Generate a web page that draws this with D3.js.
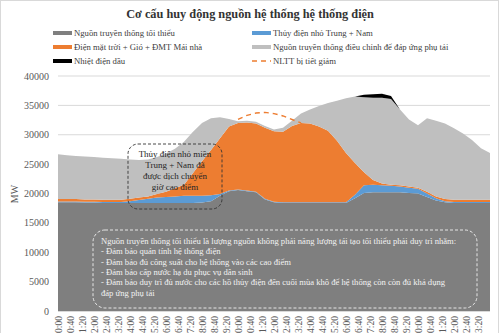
<!DOCTYPE html>
<html>
<head>
<meta charset="utf-8">
<script src="https://cdn.jsdelivr.net/npm/d3@7"></script>
<style>
  body { margin: 0; background: #fff; }
  text { font-family: "Liberation Serif", "Times New Roman", serif; }
</style>
</head>
<body>
<div id="chart"></div>
<script>
// half-hour samples over the day (hours)
const hours = [0,0.5,1,1.5,2,2.5,3,3.5,4,4.5,5,5.5,6,6.5,7,7.5,8,8.5,9,9.5,10,10.5,11,11.5,12,
  12.5,13,13.5,14,14.5,15,15.5,16,16.5,17,17.5,18,18.5,19,19.5,20,20.5,21,21.5,22,22.5,23,23.5,24];

// MW, stacked bottom -> top
const minTrad = [18500,18500,18500,18450,18450,18400,18400,18400,18400,18400,18400,18400,18400,18400,18400,18400,18450,
  18700,19600,20400,20600,20400,20200,19000,18500,18400,18400,18400,18400,18400,18400,18400,18400,
  19200,20100,20200,20200,20200,20200,20100,20000,19400,18800,18500,18400,18400,18400,18400,18400];
const smallHydro = [150,150,150,150,150,150,150,150,300,500,700,900,1000,1100,1200,1200,1150,1000,300,100,
  100,100,100,100,100,100,100,100,100,100,100,100,100,600,1300,1300,1200,1100,1000,900,800,600,400,200,
  150,150,150,150,150];
const solarWind = [400,400,400,400,400,400,400,400,400,400,400,600,900,1400,1900,3900,5900,7700,9500,10900,
  11300,11600,11600,12100,12000,12000,13000,13500,13400,12900,12200,10500,8400,5400,2200,800,300,200,200,
  200,200,300,300,350,400,400,400,400,400];
const adjTrad = [7650,7450,7350,7300,7200,7150,7050,6950,6700,6400,6300,6300,6500,6700,7300,7000,6500,5400,
  3600,1300,300,300,300,300,300,700,900,1600,2400,3500,4700,6800,9300,11300,12800,14000,14600,14600,12900,
  11400,10600,12500,12900,12850,12150,11250,10150,8750,7950];
const oilThermal = [0,0,0,0,0,0,0,0,0,0,0,0,0,0,0,0,0,0,0,0,0,0,0,0,0,0,0,0,0,0,0,0,0,0,400,600,700,500,0,
  0,0,0,0,0,0,0,0,0,0];
// renewables curtailed on top of the solar+wind output
const curtailed = [null,null,null,null,null,null,null,null,null,null,null,null,null,null,null,null,null,null,
  null,null,600,1200,1800,2600,3000,2700,1100,0,null,null,null,null,null,null,null,null,null,null,null,null,
  null,null,null,null,null,null,null,null,null];

const yTicks = [0,5000,10000,15000,20000,25000,30000,35000,40000];
const timeLabels = ["0:00","0:40","1:20","2:00","2:40","3:20","4:00","4:40","5:20","6:00","6:40","7:20",
  "8:00","8:40","9:20","10:00","10:40","11:20","12:00","12:40","13:20","14:00","14:40","15:20",
  "16:00","16:40","17:20","18:00","18:40","19:20","20:00","20:40","21:20","22:00","22:40","23:20"];

const seriesKeys = ["minTrad","smallHydro","solarWind","adjTrad","oilThermal"];
const colors = {minTrad:"#7f7f7f", smallHydro:"#5b9bd5", solarWind:"#ed7d31", adjTrad:"#bfbfbf", oilThermal:"#000000"};

const width = 500, height = 333;
const svg = d3.select("#chart").append("svg")
  .attr("width", width).attr("height", height);

svg.append("rect").attr("x",0.5).attr("y",0.5).attr("width",498).attr("height",340)
  .attr("fill","#fff").attr("stroke","#d9d9d9");

const x = d3.scaleLinear().domain([0,24]).range([58,490]);
const y = d3.scaleLinear().domain([0,40000]).range([311,76]);

// title
svg.append("text").attr("x",250).attr("y",18).attr("text-anchor","middle")
  .attr("font-size",12.3).attr("font-weight","bold").attr("fill","#333")
  .text("Cơ cấu huy động nguồn hệ thống hệ thống điện");

// gridlines + y labels
svg.append("g").selectAll("line").data(yTicks.slice(1)).join("line")
  .attr("x1",58).attr("x2",490).attr("y1",d=>y(d)).attr("y2",d=>y(d))
  .attr("stroke","#d9d9d9").attr("stroke-width",1);
svg.append("g").selectAll("text").data(yTicks).join("text")
  .attr("x",49).attr("y",d=>y(d)+3.5).attr("text-anchor","end")
  .attr("font-size",10).attr("fill","#595959").text(d=>d);
svg.append("text").attr("transform","translate(18,194) rotate(-90)")
  .attr("text-anchor","middle").attr("font-size",10).attr("fill","#595959").text("MW");

// stacked areas
const rows = hours.map((h,i)=>({h, minTrad:minTrad[i], smallHydro:smallHydro[i], solarWind:solarWind[i],
  adjTrad:adjTrad[i], oilThermal:oilThermal[i]}));
const stacked = d3.stack().keys(seriesKeys)(rows);
const area = d3.area().x(d=>x(d.data.h)).y0(d=>y(d[0])).y1(d=>y(d[1]));
svg.append("g").selectAll("path").data(stacked).join("path")
  .attr("d",area).attr("fill",d=>colors[d.key]);

// curtailed renewables (dashed)
const solarTop = stacked[2];
const curtLine = d3.line()
  .defined((d,i)=>curtailed[i]!=null)
  .x((d,i)=>x(hours[i])).y((d,i)=>y(solarTop[i][1]+curtailed[i]));
svg.append("path").datum(hours).attr("d",curtLine)
  .attr("fill","none").attr("stroke","#ed7d31").attr("stroke-width",1.4).attr("stroke-dasharray","5,4");

// x axis
svg.append("line").attr("x1",58).attr("x2",490).attr("y1",311.5).attr("y2",311.5).attr("stroke","#d9d9d9");
svg.append("g").selectAll("text").data(timeLabels).join("text")
  .attr("transform",(d,i)=>`translate(${x(i*40/60)+3.5},${316}) rotate(-90)`)
  .attr("text-anchor","end").attr("font-size",9.5).attr("fill","#595959").text(d=>d);

// legend
const legendItems = [
  {label:"Nguồn truyền thống tối thiểu", key:"minTrad", col:0, row:0},
  {label:"Thủy điện nhỏ Trung + Nam", key:"smallHydro", col:1, row:0},
  {label:"Điện mặt trời + Gió + ĐMT Mái nhà", key:"solarWind", col:0, row:1},
  {label:"Nguồn truyền thống điều chỉnh để đáp ứng phụ tải", key:"adjTrad", col:1, row:1},
  {label:"Nhiệt điện dầu", key:"oilThermal", col:0, row:2},
  {label:"NLTT bị tiết giảm", key:"dash", col:1, row:2}
];
const lg = svg.append("g").selectAll("g").data(legendItems).join("g")
  .attr("transform",d=>`translate(${d.col ? 252 : 53},${33 + d.row*14})`);
lg.filter(d=>d.key!=="dash").append("rect")
  .attr("x",0).attr("y",-2).attr("width",19).attr("height",4).attr("fill",d=>colors[d.key]);
lg.filter(d=>d.key==="dash").append("line")
  .attr("x1",0).attr("x2",19).attr("y1",0).attr("y2",0)
  .attr("stroke","#ed7d31").attr("stroke-width",1.4).attr("stroke-dasharray","5,4");
lg.append("text").attr("x",21).attr("y",3).attr("font-size",8.7).attr("fill","#404040").text(d=>d.label);

// note: small hydro shifted
svg.append("rect").attr("x",128).attr("y",144).attr("width",94).attr("height",65).attr("rx",10)
  .attr("fill","none").attr("stroke","#333").attr("stroke-width",0.9).attr("stroke-dasharray","3,2");
const note1 = ["Thủy điện nhỏ miền","Trung + Nam đã","được dịch chuyển","giờ cao điểm"];
svg.append("g").selectAll("text").data(note1).join("text")
  .attr("x",175).attr("y",(d,i)=>157 + i*11).attr("text-anchor","middle")
  .attr("font-size",9).attr("fill","#262626").text(d=>d);

// note: minimum traditional sources
svg.append("rect").attr("x",93).attr("y",230).attr("width",384).attr("height",78).attr("rx",12)
  .attr("fill","none").attr("stroke","#f2f2f2").attr("stroke-width",0.9).attr("stroke-dasharray","3,2");
const note2 = [
  "Nguồn truyền thống tối thiểu là lượng nguồn không phải năng lượng tái tạo tối thiểu phải duy trì nhằm:",
  "- Đảm bảo quán tính hệ thống điện",
  "- Đảm bảo đủ công suất cho hệ thống vào các cao điểm",
  "- Đảm bảo cấp nước hạ du phục vụ dân sinh",
  "- Đảm bảo duy trì đủ nước cho các hồ thủy điện đến cuối mùa khô để hệ thống còn còn đủ khả dụng",
  "đáp ứng phụ tải"
];
svg.append("g").selectAll("text").data(note2).join("text")
  .attr("x",101).attr("y",(d,i)=>244 + i*10.3)
  .attr("font-size",8.6).attr("fill","#f2f2f2").text(d=>d);
</script>
</body>
</html>
